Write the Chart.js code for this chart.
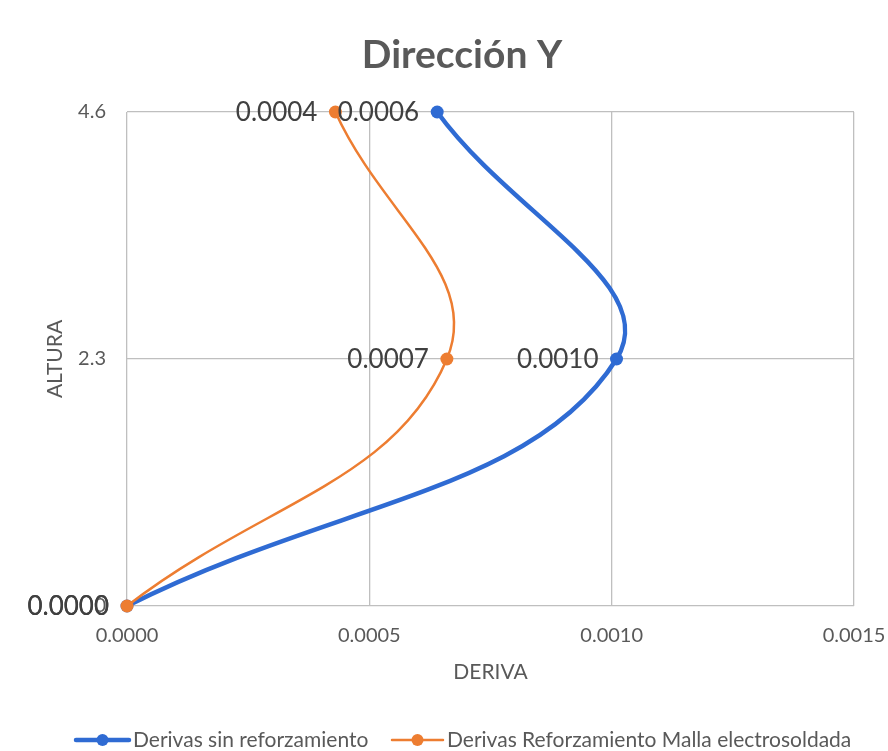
<!DOCTYPE html>
<html>
<head>
<meta charset="utf-8">
<script src="https://cdn.jsdelivr.net/npm/chart.js@4.4.1/dist/chart.umd.min.js"></script>
<style>
  html, body { margin: 0; padding: 0; background: #ffffff; }
  #wrap { width: 888px; height: 751px; position: relative; }
</style>
</head>
<body>
<div id="wrap"><canvas id="c" width="888" height="751"></canvas></div>
<script>
// ---- data ----
const alturas = [0, 2.3, 4.6];
const derivasSinRef = [0.0000, 0.00101, 0.00064];
const derivasMalla = [0.0000, 0.00066, 0.00043];
const seriesNames = ["Derivas sin reforzamiento", "Derivas Reforzamiento Malla electrosoldada"];
const yTickValues = [0, 2.3, 4.6];
const chartTitle = "Dirección Y";
const xTitle = "DERIVA";
const yTitle = "ALTURA";

const BLUE = "#2f6bd3";
const ORANGE = "#ed7d31";
const GRAY = "#595959";
const FONT = "Lato, 'Open Sans', sans-serif";

function toPoints(xs, ys) { return xs.map((x, i) => ({ x: x, y: ys[i] })); }

const dataLabelsPlugin = {
  id: 'dataLabels',
  afterDatasetsDraw(chart) {
    const ctx = chart.ctx;
    ctx.save();
    ctx.font = "26px " + FONT;
    ctx.fillStyle = "#404040";
    ctx.textAlign = "right";
    ctx.textBaseline = "middle";
    chart.data.datasets.forEach((ds, di) => {
      const meta = chart.getDatasetMeta(di);
      meta.data.forEach((el, i) => {
        const v = ds.data[i].x;
        ctx.fillText(v.toFixed(4), el.x - 18, el.y + 1);
      });
    });
    ctx.restore();
  }
};

const decorPlugin = {
  id: 'decor',
  afterDraw(chart) {
    const ctx = chart.ctx;
    const ca = chart.chartArea;
    ctx.save();
    // title
    ctx.fillStyle = GRAY;
    ctx.font = "bold 39px " + FONT;
    ctx.textAlign = "center";
    ctx.textBaseline = "middle";
    ctx.fillText(chartTitle, 462, 55);
    // x title
    ctx.font = "21px " + FONT;
    ctx.fillText(xTitle, (ca.left + ca.right) / 2, 672);
    // y title
    ctx.save();
    ctx.translate(55, (ca.top + ca.bottom) / 2);
    ctx.rotate(-Math.PI / 2);
    ctx.fillText(yTitle, 0, 0);
    ctx.restore();
    // legend
    const items = [
      { name: seriesNames[0], color: BLUE, lw: 4.5, x0: 76, x1: 129 },
      { name: seriesNames[1], color: ORANGE, lw: 2.5, x0: 392, x1: 443 }
    ];
    const ly = 740;
    items.forEach(it => {
      ctx.strokeStyle = it.color;
      ctx.lineWidth = it.lw;
      ctx.lineCap = "round";
      ctx.beginPath();
      ctx.moveTo(it.x0, ly);
      ctx.lineTo(it.x1, ly);
      ctx.stroke();
      ctx.fillStyle = it.color;
      ctx.beginPath();
      ctx.arc((it.x0 + it.x1) / 2, ly, 6, 0, Math.PI * 2);
      ctx.fill();
      ctx.fillStyle = GRAY;
      ctx.font = "21px " + FONT;
      ctx.textAlign = "left";
      ctx.fillText(it.name, it.x1 + 4, ly);
    });
    ctx.restore();
  }
};

new Chart(document.getElementById('c'), {
  type: 'scatter',
  data: {
    datasets: [
      {
        label: seriesNames[0],
        data: toPoints(derivasSinRef, alturas),
        showLine: true,
        borderColor: BLUE,
        backgroundColor: BLUE,
        borderWidth: 4.5,
        pointRadius: 6.5,
        pointBorderWidth: 0,
        tension: 0.42,
        clip: false,
        order: 1
      },
      {
        label: seriesNames[1],
        data: toPoints(derivasMalla, alturas),
        showLine: true,
        borderColor: ORANGE,
        backgroundColor: ORANGE,
        borderWidth: 2.5,
        pointRadius: 6.5,
        pointBorderWidth: 0,
        tension: 0.42,
        clip: false,
        order: 0
      }
    ]
  },
  options: {
    responsive: false,
    animation: false,
    layout: { padding: { top: 112, right: 34, left: 0, bottom: 0 } },
    plugins: {
      legend: { display: false },
      title: { display: false },
      tooltip: { enabled: false }
    },
    scales: {
      x: {
        type: 'linear',
        min: 0,
        max: 0.0015,
        ticks: {
          stepSize: 0.0005,
          color: GRAY,
          font: { family: FONT, size: 20 },
          padding: 18,
          callback: v => Number(v).toFixed(4)
        },
        grid: { color: "#bfbfbf", lineWidth: 1.3, drawTicks: false },
        border: { display: false },
        afterFit: s => { s.height = 145; s.paddingRight = 0; s.paddingLeft = 0; }
      },
      y: {
        type: 'linear',
        min: 0,
        max: 4.6,
        afterBuildTicks: s => { s.ticks = yTickValues.map(v => ({ value: v })); },
        ticks: {
          color: GRAY,
          font: { family: FONT, size: 20 },
          padding: 21,
          callback: v => (v === 0 ? "0" : String(v))
        },
        grid: { color: "#bfbfbf", lineWidth: 1.3, drawTicks: false },
        border: { display: false },
        afterFit: s => { s.width = 127; s.paddingTop = 0; s.paddingBottom = 0; }
      }
    }
  },
  plugins: [dataLabelsPlugin, decorPlugin]
});
</script>
</body>
</html>
